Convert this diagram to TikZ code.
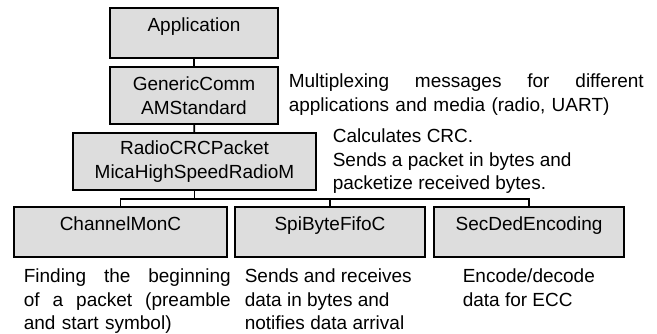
\documentclass[tikz,border=0pt]{standalone}
\usepackage{fontspec}
\setmainfont{Liberation Sans}
\definecolor{boxgray}{RGB}{221,221,221}
\tikzset{blk/.style={draw,fill=boxgray,inner sep=0pt},
  oneline/.style={blk,minimum height=50pt,text height=14pt,text depth=16pt},
  twoline/.style={blk,minimum height=57pt,align=center},
  note/.style={anchor=north west,inner sep=0pt,align=left}}

\begin{document}
\begin{tikzpicture}[x=1pt,y=-1pt,line width=1.6pt,font=\fontsize{19pt}{23.5pt}\selectfont]
  \useasboundingbox (0,0) rectangle (657,334);
  % layers of the stack
  \node[oneline,minimum width=168pt] (app) at (194,33) {Application};
  \node[twoline,minimum width=168pt] (gen) at (194,95.5) {GenericComm\\AMStandard};
  \node[twoline,minimum width=243pt] (radio) at (194.5,161.5) {RadioCRCPacket\\MicaHighSpeedRadioM};
  \node[oneline,minimum width=213pt] (chan) at (120.5,232) {ChannelMonC};
  \node[oneline,minimum width=190pt] (spi) at (330,232) {SpiByteFifoC};
  \node[oneline,minimum width=190pt] (sec) at (529,232) {SecDedEncoding};
  % links between layers
  \draw (app) -- (gen);
  \draw (gen) -- (radio);
  \coordinate (bus) at (radio.south |- 0,199);
  \draw (radio) -- (bus);
  \draw (chan) |- (bus) -| (sec);
  \draw (spi) -- (spi |- bus);
  % what each layer does
  \node[note,text width=355pt] (gnote) at (288,73)
    {Multiplexing\hfill messages\hfill for\hfill different\\applications and media (radio, UART)};
  \node[note] (rnote) at (332,128)
    {Calculates CRC.\\Sends a packet in bytes and\\packetize received bytes.};
  \node[note,text width=207pt] (cnote) at (23,268)
    {Finding\hfill the\hfill beginning\\of\hfill a\hfill packet\hfill (preamble\\and start symbol)};
  \node[note] (snote) at (244,268)
    {Sends and receives\\data in bytes and\\notifies data arrival};
  \node[note] (enote) at (462,268) {Encode/decode\\data for ECC};
\end{tikzpicture}
\end{document}
